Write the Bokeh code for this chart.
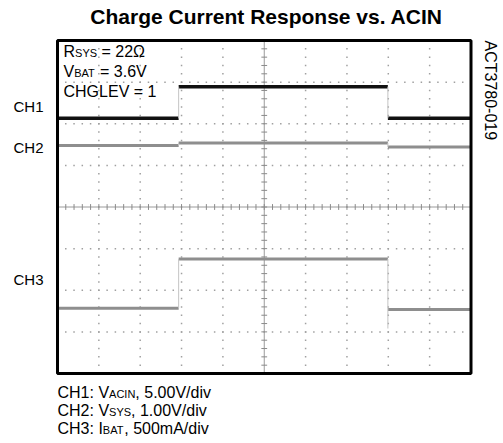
import numpy as np
from bokeh.plotting import figure
from bokeh.models import Range1d, Label
from bokeh.embed import file_html
from bokeh.resources import INLINE

# ---- data (in screen divisions: 10 horizontal x 8 vertical) ----
time_edges = [0.0, 2.93, 7.99, 10.0]          # start, ACIN on, ACIN off, end
ch1_levels = [6.13, 6.89, 6.13]               # V_ACIN trace level per interval
ch2_levels = [5.48, 5.54, 5.44]               # V_SYS trace level per interval
ch3_levels = [1.57, 2.75, 1.54]               # I_BAT trace level per interval
ch3_undershoot = 1.08                         # I_BAT dip at ACIN removal
ch_names = ["CH1", "CH2", "CH3"]
ch_label_y = [6.27, 5.285, 2.12]
title = "Charge Current Response vs. ACIN"
cond_lines = [("R", "SYS", " = 22Ω"), ("V", "BAT", " = 3.6V"), ("CHGLEV = 1", "", "")]
scale_lines = [("CH1: V", "ACIN", ", 5.00V/div"), ("CH2: V", "SYS", ", 1.00V/div"),
               ("CH3: I", "BAT", ", 500mA/div")]
fig_id = "ACT3780-019"

FONT = "Liberation Sans"
W = {' ': 278, ',': 278, '.': 278, ':': 278, '=': 584, '/': 278, '-': 333, 'Ω': 768,
     'A': 667, 'B': 667, 'C': 722, 'E': 667, 'G': 778, 'H': 722, 'I': 278, 'L': 556,
     'N': 722, 'R': 722, 'S': 667, 'T': 611, 'V': 667, 'Y': 667,
     'a': 556, 'd': 556, 'i': 222, 'm': 833, 'v': 500}
for dch in "0123456789":
    W[dch] = 556

def tw(s, size):
    return sum(W.get(c, 556) for c in s) * size / 1000.0

CW, CH = 500, 440          # canvas size
GX0, GY0 = 57, 373         # graticule left / bottom in canvas pixels
PXX = 41.35                # px per horizontal division
PXY = 41.625               # px per vertical division
LIFT = 6                   # baseline correction in px

p = figure(width=CW, height=CH, output_backend="svg", toolbar_location=None,
           x_range=Range1d(-GX0 / PXX, (CW - GX0) / PXX),
           y_range=Range1d((GY0 - CH) / PXY, GY0 / PXY),
           x_axis_location=None, y_axis_location=None,
           min_border=0)
p.grid.visible = False
p.outline_line_color = None
p.background_fill_color = "white"
p.border_fill_color = "white"

# ---- graticule: dotted division lines ----
step = 0.2
dx, dy = [], []
for gx in range(1, 10):
    if gx == 5:
        continue
    ys = np.arange(0, 8.001, step)
    dx += [gx] * len(ys)
    dy += list(ys)
for gy in range(1, 8):
    if gy == 4:
        continue
    xs = np.arange(0, 10.001, step)
    dx += list(xs)
    dy += [gy] * len(xs)
p.scatter(dx, dy, marker="square", size=1.5, color="#a0a0a0", line_color=None)

# center crosshair with minor ticks
p.segment(x0=[5, 0], y0=[0, 4], x1=[5, 10], y1=[8, 4], line_color="#9a9a9a", line_width=1)
tx = np.arange(0, 10.001, step)
ty = np.arange(0, 8.001, step)
p.segment(x0=tx, x1=tx, y0=4 - 0.07, y1=4 + 0.07, line_color="#8a8a8a", line_width=1)
p.segment(x0=5 - 0.07, x1=5 + 0.07, y0=ty, y1=ty, line_color="#8a8a8a", line_width=1)

# ---- traces ----
def trace(levels, color, width, fall_to=None):
    p.segment(x0=time_edges[:-1], x1=time_edges[1:], y0=levels, y1=levels,
              line_color=color, line_width=width)
    end = levels[2] if fall_to is None else fall_to
    p.segment(x0=[time_edges[1], time_edges[2]], x1=[time_edges[1], time_edges[2]],
              y0=[levels[0], levels[1]], y1=[levels[1], end],
              line_color="#c4c4c4", line_width=1)

trace(ch2_levels, "#8e8e8e", 3)
trace(ch3_levels, "#8e8e8e", 3, fall_to=ch3_undershoot)
trace(ch1_levels, "#111111", 3.5)

# graticule border
p.quad(left=[0], right=[10], bottom=[0], top=[8], fill_color=None,
       line_color="black", line_width=3)

# ---- text ----
def label(x, y, text, size, bold=False, x_offset=0, y_offset=0, align="left",
          baseline="alphabetic", angle=0, lift=LIFT):
    stripped = text.lstrip(" ")
    x_offset += tw(text[:len(text) - len(stripped)], size)
    p.add_layout(Label(x=x, y=y, text=stripped, x_offset=x_offset, y_offset=y_offset + lift,
                       text_font=FONT, text_font_size=f"{size}px",
                       text_font_style="bold" if bold else "normal",
                       text_color="black", text_align=align, text_baseline=baseline,
                       angle=angle))

def rich(x, y, parts, size=16, sub=11):
    main, s, rest = parts
    label(x, y, main, size)
    off = tw(main, size)
    if s:
        label(x, y, s, sub, x_offset=off, y_offset=-2)
        off += tw(s, sub)
    if rest:
        label(x, y, rest, size, x_offset=off)

label((266 - GX0) / PXX, (GY0 - 21.5) / PXY, title, 21, bold=True, align="center")
for name, yy in zip(ch_names, ch_label_y):
    label(-44 / PXX, yy, name, 15)
for i, parts in enumerate(cond_lines):
    rich(6 / PXX, 8 - (16.5 + 20 * i) / PXY, parts)
for i, parts in enumerate(scale_lines):
    rich(0.0, -(24.5 + 18 * i) / PXY, parts)
label(10 + 19 / PXX, 8.0, fig_id, 16, align="left", baseline="middle", angle=-np.pi / 2,
      lift=0)

open("out.html", "w").write(file_html(p, INLINE))
